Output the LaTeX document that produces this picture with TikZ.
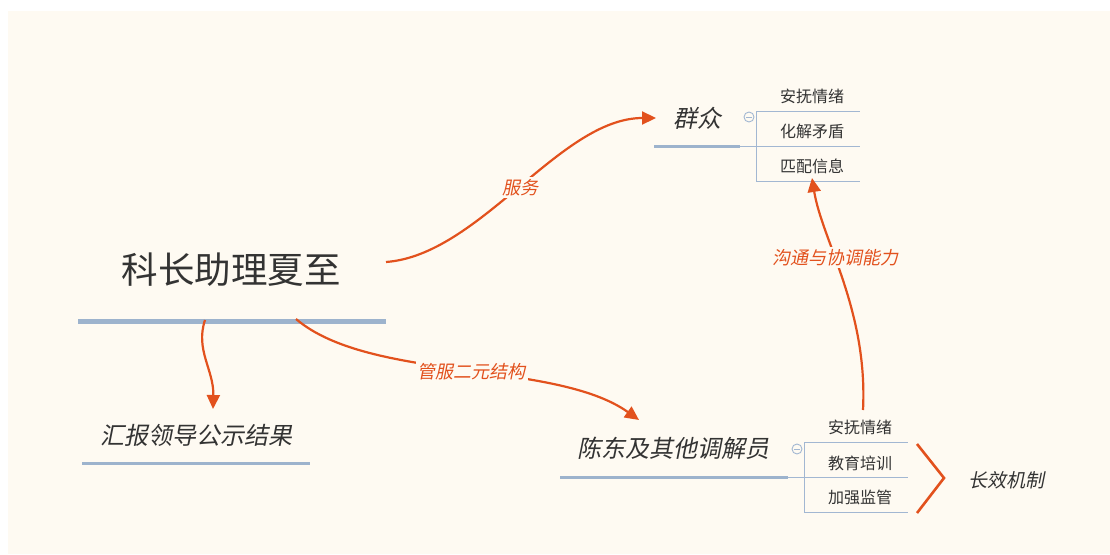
\documentclass[tikz,border=0pt]{standalone}
\usepackage{fontspec}
\newfontfamily\cjk{Noto Sans CJK SC}
\newfontfamily\cjkit{Noto Sans CJK SC}[FakeSlant=0.2]
\usetikzlibrary{arrows.meta}
\definecolor{bg}{HTML}{FEFAF2}
\definecolor{txt}{HTML}{333333}
\definecolor{ln}{HTML}{9DB3CD}
\definecolor{thinln}{HTML}{A2B7D2}
\definecolor{rd}{HTML}{E2511D}
\tikzset{
  topic/.style={text=txt, inner sep=0pt},
  bigtopic/.style={topic, font=\cjk\fontsize{36.5}{42}\selectfont},
  ittopic/.style={topic, font=\cjkit\fontsize{24}{28}\selectfont},
  subitem/.style={topic, font=\cjk\fontsize{16}{19}\selectfont},
  thickline/.style={draw=ln, line width=5pt},
  midline/.style={draw=ln, line width=3pt},
  thinline/.style={draw=thinln, line width=1pt},
  relarrow/.style={draw=rd, line width=2.2pt, -{Triangle[length=14pt,width=13pt]}},
  rellabel/.style={fill=bg, text=rd, inner sep=2pt, font=\cjkit\fontsize{18}{21}\selectfont},
  collapse/.style={circle, draw=thinln, fill=bg, minimum size=10pt, inner sep=0pt, line width=0.9pt},
}
\begin{document}
\begin{tikzpicture}[x=1pt,y=-1pt]
\useasboundingbox (0,0) rectangle (1110,554);
\fill[bg] (8,11) rectangle (1110,554);

% central topic
\node[bigtopic] (main) at (231,270) {科长助理夏至};
\coordinate (mainL) at (78,321);
\coordinate (mainR) at (386,321);
\draw[thickline] (mainL) -- (mainR);

% report topic
\node[ittopic] (report) at (196,435) {汇报领导公示结果};
\coordinate (reportL) at (82,463);
\coordinate (reportR) at (310,463);
\draw[midline] (reportL) -- (reportR);

% masses topic
\node[ittopic] (mass) at (697,118) {群众};
\coordinate (massL) at (654,146);
\coordinate (massR) at (740,146);
\draw[midline] (massL) -- (massR);
\coordinate (mb1) at (756,111);
\coordinate (mb3) at (756,181);
\draw[thinline] (massR) -- (860,146);
\draw[thinline] (mb1) -- (860,111);
\draw[thinline] (mb3) -- (860,181);
\draw[thinline] (mb1) -- (mb3);
\node[collapse] (mc) at (749,117) {};
\draw[thinln, line width=0.9pt] ([xshift=2.5pt]mc.west) -- ([xshift=-2.5pt]mc.east);
\node[subitem] (m1) at (812,96) {安抚情绪};
\node[subitem] (m2) at (812,131) {化解矛盾};
\node[subitem] (m3) at (812,166) {匹配信息};

% mediators topic
\node[ittopic] (med) at (673,448) {陈东及其他调解员};
\coordinate (medL) at (560,477);
\coordinate (medR) at (788,477);
\draw[midline] (medL) -- (medR);
\coordinate (db1) at (804,442);
\coordinate (db3) at (804,512);
\draw[thinline] (medR) -- (908,477);
\draw[thinline] (db1) -- (908,442);
\draw[thinline] (db3) -- (908,512);
\draw[thinline] (db1) -- (db3);
\node[collapse] (dc) at (797,449) {};
\draw[thinln, line width=0.9pt] ([xshift=2.5pt]dc.west) -- ([xshift=-2.5pt]dc.east);
\node[subitem] (d1) at (860,427) {安抚情绪};
\node[subitem] (d2) at (860,463) {教育培训};
\node[subitem] (d3) at (860,497) {加强监管};

% summary bracket
\coordinate (brT) at (917,444);
\coordinate (brM) at (944,478);
\coordinate (brB) at (917,513);
\draw[rd, line width=2.6pt, line join=miter] (brT) -- (brM) -- (brB);
\node[topic, font=\cjkit\fontsize{19}{22}\selectfont] (summ) at (1006,480) {长效机制};

% relationships
\coordinate (a1s) at (386,262);
\coordinate (a1e) at (656,118);
\draw[relarrow] (a1s) .. controls (480,255) and (560,118) .. (a1e)
  node[rellabel, pos=0.5] {服务};

\coordinate (a2s) at (296,319);
\coordinate (a2e) at (639,420);
\draw[relarrow] (a2s) .. controls (370,382) and (555,360) .. (a2e)
  node[rellabel, pos=0.52] {管服二元结构};

\coordinate (a3s) at (205,320);
\coordinate (a3e) at (213,409);
\draw[relarrow] (a3s) .. controls (195,350) and (214,370) .. (a3e);

\coordinate (a4s) at (863,410);
\coordinate (a4e) at (812,178);
\draw[relarrow] (a4s) .. controls (868,310) and (822,240) .. (a4e)
  node[rellabel, pos=0.6] {沟通与协调能力};
\end{tikzpicture}
\end{document}
